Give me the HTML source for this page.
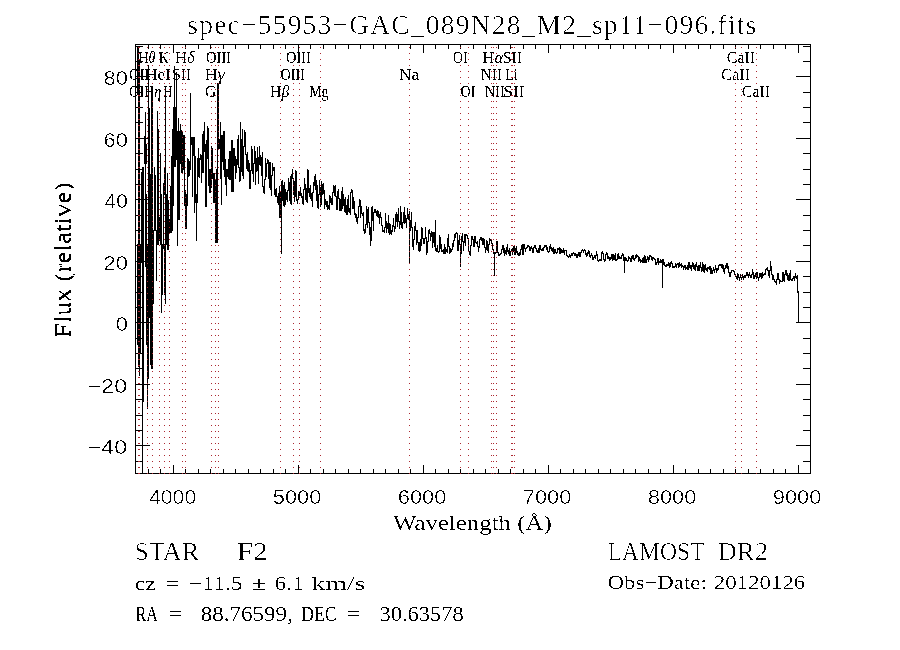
<!DOCTYPE html><html><head><meta charset="utf-8"><style>html,body{margin:0;padding:0;background:#fff;}svg{display:block;}</style></head><body>
<svg width="900" height="650" viewBox="0 0 900 650">
<rect width="900" height="650" fill="#fff"/>
<path stroke="#000" stroke-width="1" fill="none" shape-rendering="crispEdges" d="M137.5 46V95M137.5 244V345M138.5 46V367M139.5 60V376M140.5 244V354M141.5 172V263M142.5 167V474M143.5 167V402M144.5 136V164M145.5 112V267M146.5 144V164M146.5 194V345M147.5 244V409M148.5 65V379M149.5 108V318M150.5 174V365M151.5 88V369M152.5 88V369M153.5 230V304M154.5 167V231M155.5 175V231M156.5 230V281M157.5 111V245M158.5 129V245M159.5 217V241M160.5 153V245M161.5 194V313M162.5 244V295M163.5 183V249M164.5 167V195M164.5 244V295M165.5 87V304M166.5 194V245M167.5 173V250M168.5 200V250M169.5 219V233M170.5 186V233M171.5 156V233M172.5 129V231M173.5 107V206M174.5 66V167M175.5 107V167M176.5 72V160M177.5 131V246M178.5 118V220M179.5 131V220M180.5 124V164M181.5 130V173M182.5 132V174M183.5 135V170M184.5 135V206M185.5 190V229M186.5 194V229M187.5 158V206M188.5 159V177M189.5 161V176M190.5 93V170M191.5 137V145M192.5 137V197M193.5 137V156M194.5 137V213M195.5 156V203M196.5 194V241M197.5 158V203M198.5 148V177M199.5 158V178M200.5 154V160M201.5 155V183M202.5 134V173M203.5 131V173M204.5 122V152M205.5 144V207M206.5 140V207M207.5 126V159M208.5 128V186M209.5 169V193M210.5 169V193M211.5 146V188M212.5 148V179M213.5 173V203M214.5 173V203M215.5 179V243M216.5 169V243M217.5 83V243M218.5 83V149M219.5 139V149M220.5 122V179M221.5 135V205M222.5 135V162M223.5 131V170M224.5 131V177M225.5 159V185M226.5 169V196M227.5 169V177M228.5 159V179M229.5 151V180M230.5 151V180M231.5 140V192M232.5 140V192M233.5 148V192M234.5 148V166M235.5 156V179M236.5 159V173M237.5 139V165M238.5 135V168M239.5 167V182M240.5 122V181M241.5 139V172M242.5 129V176M243.5 146V179M244.5 130V147M245.5 132V155M246.5 154V169M247.5 152V171M248.5 160V172M249.5 163V189M250.5 170V189M251.5 146V171M252.5 149V174M253.5 163V182M254.5 146V164M255.5 151V185M256.5 158V172M257.5 147V171M258.5 157V184M259.5 146V165M260.5 155V166M261.5 157V176M262.5 152V187M263.5 186V193M264.5 179V194M265.5 158V180M266.5 163V177M267.5 159V164M268.5 160V179M269.5 162V188M270.5 162V190M271.5 175V196M272.5 163V176M273.5 167V171M274.5 167V195M275.5 189V197M276.5 188V197M277.5 196V203M278.5 193V205M279.5 186V218M280.5 192V218M281.5 181V254M282.5 180V201M283.5 185V206M284.5 182V207M285.5 189V205M286.5 192V200M287.5 190V202M288.5 178V191M289.5 182V201M290.5 176V204M291.5 174V205M292.5 169V179M293.5 178V195M294.5 181V202M295.5 170V197M296.5 171V201M297.5 199V204M298.5 191V200M299.5 191V196M300.5 187V196M301.5 193V198M302.5 196V204M303.5 189V205M304.5 178V190M305.5 184V200M306.5 188V202M307.5 169V203M308.5 170V193M309.5 188V197M310.5 185V199M311.5 193V201M312.5 192V207M313.5 182V193M314.5 176V186M315.5 174V190M316.5 180V201M317.5 185V208M318.5 194V209M319.5 180V195M320.5 187V207M321.5 181V205M322.5 184V195M323.5 183V194M324.5 190V209M325.5 199V205M326.5 201V207M327.5 201V210M328.5 205V209M329.5 195V210M330.5 196V203M331.5 198V205M332.5 192V205M333.5 185V193M334.5 186V196M335.5 185V197M336.5 196V210M337.5 191V210M338.5 189V199M339.5 198V211M340.5 199V211M341.5 191V211M342.5 187V209M343.5 194V206M344.5 199V212M345.5 197V213M346.5 205V215M347.5 199V215M348.5 195V212M349.5 208V213M350.5 192V215M351.5 189V193M352.5 190V209M353.5 197V209M354.5 201V215M355.5 213V218M356.5 214V222M357.5 217V224M358.5 206V218M359.5 199V207M360.5 200V218M361.5 206V214M362.5 213V216M363.5 212V231M364.5 229V234M365.5 224V233M366.5 206V225M367.5 209V228M368.5 207V223M369.5 222V235M370.5 227V246M371.5 207V241M372.5 206V221M373.5 212V231M374.5 209V213M375.5 209V213M376.5 211V216M377.5 210V217M378.5 211V218M379.5 214V224M380.5 212V218M381.5 217V226M382.5 225V232M383.5 230V232M384.5 227V233M385.5 213V228M386.5 221V233M387.5 223V229M388.5 215V233M389.5 223V235M390.5 224V234M391.5 230V235M392.5 225V232M393.5 218V227M394.5 226V232M395.5 214V229M396.5 212V222M397.5 214V227M398.5 208V222M399.5 221V229M400.5 206V225M401.5 212V228M402.5 222V229M403.5 212V223M404.5 207V224M405.5 215V223M406.5 218V228M407.5 208V219M408.5 214V220M409.5 211V264M410.5 220V231M411.5 212V228M412.5 227V247M413.5 239V250M414.5 226V240M415.5 222V231M416.5 230V245M417.5 230V243M418.5 242V251M419.5 242V252M420.5 239V251M421.5 227V246M422.5 228V239M423.5 238V244M424.5 238V244M425.5 227V239M426.5 237V255M427.5 241V253M428.5 230V242M429.5 229V234M430.5 233V241M431.5 231V237M432.5 232V248M433.5 232V243M434.5 232V247M435.5 220V251M436.5 248V252M437.5 245V252M438.5 251V253M439.5 235V252M440.5 237V249M441.5 244V252M442.5 250V252M443.5 249V254M444.5 244V254M445.5 247V254M446.5 249V252M447.5 238V253M448.5 234V247M449.5 246V254M450.5 248V253M451.5 249V252M452.5 243V250M453.5 240V247M454.5 234V241M455.5 233V238M456.5 232V234M457.5 233V251M458.5 240V251M459.5 235V245M460.5 244V267M461.5 236V254M462.5 233V242M463.5 241V251M464.5 234V243M465.5 234V246M466.5 234V236M467.5 235V239M468.5 238V252M469.5 251V255M470.5 245V256M471.5 236V246M472.5 236V240M473.5 239V247M474.5 236V247M475.5 236V243M476.5 242V244M477.5 241V247M478.5 246V252M479.5 239V248M480.5 237V240M481.5 237V241M482.5 238V245M483.5 238V245M484.5 239V248M485.5 247V253M486.5 240V250M487.5 241V251M488.5 244V253M489.5 238V245M490.5 239V241M491.5 239V244M492.5 243V250M493.5 249V254M494.5 252V276M495.5 252V254M496.5 241V253M497.5 241V253M498.5 252V256M499.5 254V256M500.5 253V255M501.5 249V254M502.5 245V250M503.5 245V253M504.5 248V256M505.5 250V254M506.5 247V255M507.5 244V252M508.5 250V254M509.5 248V256M510.5 251V256M511.5 249V252M512.5 248V255M513.5 246V252M514.5 245V255M515.5 248V255M516.5 246V253M517.5 251V255M518.5 253V256M519.5 252V256M520.5 249V255M521.5 245V250M522.5 244V255M523.5 244V255M524.5 244V249M525.5 248V252M526.5 247V249M527.5 245V248M528.5 245V247M529.5 246V251M530.5 247V251M531.5 246V249M532.5 248V253M533.5 247V253M534.5 245V248M535.5 245V249M536.5 248V252M537.5 250V253M538.5 248V253M539.5 245V253M540.5 245V250M541.5 249V251M542.5 248V251M543.5 247V251M544.5 245V248M545.5 245V247M546.5 245V250M547.5 247V252M548.5 251V253M549.5 246V252M550.5 244V249M551.5 247V251M552.5 248V252M553.5 247V254M554.5 249V254M555.5 249V253M556.5 252V254M557.5 248V253M558.5 248V250M559.5 247V254M560.5 248V254M561.5 249V253M562.5 250V253M563.5 248V253M564.5 250V255M565.5 250V251M566.5 250V256M567.5 255V257M568.5 256V258M569.5 254V257M570.5 255V258M571.5 253V256M572.5 253V256M573.5 252V254M574.5 253V256M575.5 253V256M576.5 254V258M577.5 254V258M578.5 252V256M579.5 252V257M580.5 252V257M581.5 250V253M582.5 249V251M583.5 250V253M584.5 249V251M585.5 250V255M586.5 253V257M587.5 252V256M588.5 250V254M589.5 251V257M590.5 255V258M591.5 253V256M592.5 255V260M593.5 257V260M594.5 255V258M595.5 255V259M596.5 251V256M597.5 254V261M598.5 260V262M599.5 259V261M600.5 259V261M601.5 252V261M602.5 251V254M603.5 253V260M604.5 259V262M605.5 254V261M606.5 252V255M607.5 253V259M608.5 256V259M609.5 257V261M610.5 257V260M611.5 254V259M612.5 254V261M613.5 254V260M614.5 255V260M615.5 253V261M616.5 259V261M617.5 254V260M618.5 253V259M619.5 256V259M620.5 257V259M621.5 255V259M622.5 253V256M623.5 254V261M624.5 257V273M625.5 257V261M626.5 258V261M627.5 260V262M628.5 256V261M629.5 257V259M630.5 258V262M631.5 256V262M632.5 255V259M633.5 255V260M634.5 258V261M635.5 255V259M636.5 254V258M637.5 255V257M638.5 256V262M639.5 257V261M640.5 259V263M641.5 260V262M642.5 258V263M643.5 257V263M644.5 255V263M645.5 256V263M646.5 259V263M647.5 256V260M648.5 257V262M649.5 255V260M650.5 255V257M651.5 256V260M652.5 257V261M653.5 257V259M654.5 258V260M655.5 259V265M656.5 262V265M657.5 258V263M658.5 258V265M659.5 261V263M660.5 259V263M661.5 260V263M662.5 259V288M663.5 259V265M664.5 262V266M665.5 265V267M666.5 264V267M667.5 264V266M668.5 262V266M669.5 263V268M670.5 262V267M671.5 261V264M672.5 263V268M673.5 266V268M674.5 266V268M675.5 263V267M676.5 264V268M677.5 263V265M678.5 263V268M679.5 262V267M680.5 264V266M681.5 263V268M682.5 265V267M683.5 266V270M684.5 265V268M685.5 265V270M686.5 267V269M687.5 265V270M688.5 262V270M689.5 262V268M690.5 265V269M691.5 265V271M692.5 262V267M693.5 263V269M694.5 265V270M695.5 264V271M696.5 262V267M697.5 266V271M698.5 265V271M699.5 265V271M700.5 262V268M701.5 267V272M702.5 262V271M703.5 264V272M704.5 265V273M705.5 264V270M706.5 268V271M707.5 267V272M708.5 267V269M709.5 266V270M710.5 266V274M711.5 268V274M712.5 270V274M713.5 267V271M714.5 269V273M715.5 265V270M716.5 268V273M717.5 268V271M718.5 265V270M719.5 264V266M720.5 264V266M721.5 264V268M722.5 264V269M723.5 265V272M724.5 268V274M725.5 265V269M726.5 263V268M727.5 263V269M728.5 266V273M729.5 272V277M730.5 272V277M731.5 270V273M732.5 270V271M733.5 270V272M734.5 271V275M735.5 274V277M736.5 276V279M737.5 273V280M738.5 274V278M739.5 277V281M740.5 274V278M741.5 277V280M742.5 274V278M743.5 276V280M744.5 275V278M745.5 275V278M746.5 272V276M747.5 272V276M748.5 274V278M749.5 272V276M750.5 275V278M751.5 274V278M752.5 269V275M753.5 272V279M754.5 275V279M755.5 273V277M756.5 272V279M757.5 272V278M758.5 277V281M759.5 273V278M760.5 273V277M761.5 273V279M762.5 272V278M763.5 274V276M764.5 273V275M765.5 269V275M766.5 268V270M767.5 267V271M768.5 270V276M769.5 270V278M770.5 261V271M771.5 266V275M772.5 274V280M773.5 275V280M774.5 279V282M775.5 281V283M776.5 279V285M777.5 273V280M778.5 273V280M779.5 279V284M780.5 280V282M781.5 281V282M782.5 272V282M783.5 272V281M784.5 274V282M785.5 270V275M786.5 270V276M787.5 273V280M788.5 275V281M789.5 273V281M790.5 270V280M791.5 279V281M792.5 278V281M793.5 276V279M794.5 276V281M795.5 273V278M796.5 276V279M797.5 275V293M798.5 291V323"/>
<path stroke="#000" stroke-width="1" fill="none" shape-rendering="crispEdges" d="M135.5 44.5H810.5V473.5H135.5ZM148.5 473V469M148.5 44V49M160.5 473V469M160.5 44V49M173.5 473V465M173.5 44V53M185.5 473V469M185.5 44V49M198.5 473V469M198.5 44V49M210.5 473V469M210.5 44V49M223.5 473V469M223.5 44V49M235.5 473V469M235.5 44V49M248.5 473V469M248.5 44V49M260.5 473V469M260.5 44V49M273.5 473V469M273.5 44V49M285.5 473V469M285.5 44V49M298.5 473V465M298.5 44V53M310.5 473V469M310.5 44V49M323.5 473V469M323.5 44V49M335.5 473V469M335.5 44V49M348.5 473V469M348.5 44V49M360.5 473V469M360.5 44V49M373.5 473V469M373.5 44V49M385.5 473V469M385.5 44V49M398.5 473V469M398.5 44V49M410.5 473V469M410.5 44V49M423.5 473V465M423.5 44V53M435.5 473V469M435.5 44V49M448.5 473V469M448.5 44V49M460.5 473V469M460.5 44V49M473.5 473V469M473.5 44V49M485.5 473V469M485.5 44V49M498.5 473V469M498.5 44V49M510.5 473V469M510.5 44V49M523.5 473V469M523.5 44V49M535.5 473V469M535.5 44V49M548.5 473V465M548.5 44V53M560.5 473V469M560.5 44V49M573.5 473V469M573.5 44V49M585.5 473V469M585.5 44V49M598.5 473V469M598.5 44V49M610.5 473V469M610.5 44V49M623.5 473V469M623.5 44V49M635.5 473V469M635.5 44V49M648.5 473V469M648.5 44V49M660.5 473V469M660.5 44V49M673.5 473V465M673.5 44V53M685.5 473V469M685.5 44V49M698.5 473V469M698.5 44V49M710.5 473V469M710.5 44V49M723.5 473V469M723.5 44V49M735.5 473V469M735.5 44V49M748.5 473V469M748.5 44V49M760.5 473V469M760.5 44V49M773.5 473V469M773.5 44V49M785.5 473V469M785.5 44V49M798.5 473V465M798.5 44V53M135 461.5H143M810 461.5H803M135 445.5H150M810 445.5H796M135 430.5H143M810 430.5H803M135 415.5H143M810 415.5H803M135 399.5H143M810 399.5H803M135 384.5H150M810 384.5H796M135 368.5H143M810 368.5H803M135 353.5H143M810 353.5H803M135 338.5H143M810 338.5H803M135 322.5H150M810 322.5H796M135 307.5H143M810 307.5H803M135 292.5H143M810 292.5H803M135 276.5H143M810 276.5H803M135 261.5H150M810 261.5H796M135 245.5H143M810 245.5H803M135 230.5H143M810 230.5H803M135 215.5H143M810 215.5H803M135 199.5H150M810 199.5H796M135 184.5H143M810 184.5H803M135 169.5H143M810 169.5H803M135 153.5H143M810 153.5H803M135 138.5H150M810 138.5H796M135 122.5H143M810 122.5H803M135 107.5H143M810 107.5H803M135 92.5H143M810 92.5H803M135 76.5H150M810 76.5H796M135 61.5H143M810 61.5H803M135 46.5H143M810 46.5H803"/>
<path fill="#ac2830" d="M138 47h1v1h-1zM138 53h1v1h-1zM138 59h1v1h-1zM138 65h1v1h-1zM138 71h1v1h-1zM138 77h1v1h-1zM138 83h1v1h-1zM138 89h1v1h-1zM138 95h1v1h-1zM138 101h1v1h-1zM138 107h1v1h-1zM138 113h1v1h-1zM138 119h1v1h-1zM138 125h1v1h-1zM138 131h1v1h-1zM138 137h1v1h-1zM138 143h1v1h-1zM138 149h1v1h-1zM138 155h1v1h-1zM138 161h1v1h-1zM138 167h1v1h-1zM138 173h1v1h-1zM138 179h1v1h-1zM138 185h1v1h-1zM138 191h1v1h-1zM138 197h1v1h-1zM138 203h1v1h-1zM138 209h1v1h-1zM138 215h1v1h-1zM138 221h1v1h-1zM138 227h1v1h-1zM138 233h1v1h-1zM138 239h1v1h-1zM138 245h1v1h-1zM138 251h1v1h-1zM138 257h1v1h-1zM138 263h1v1h-1zM138 269h1v1h-1zM138 275h1v1h-1zM138 281h1v1h-1zM138 287h1v1h-1zM138 293h1v1h-1zM138 299h1v1h-1zM138 305h1v1h-1zM138 311h1v1h-1zM138 317h1v1h-1zM138 323h1v1h-1zM138 329h1v1h-1zM138 335h1v1h-1zM138 341h1v1h-1zM138 347h1v1h-1zM138 353h1v1h-1zM138 359h1v1h-1zM138 365h1v1h-1zM138 371h1v1h-1zM138 377h1v1h-1zM138 383h1v1h-1zM138 389h1v1h-1zM138 395h1v1h-1zM138 401h1v1h-1zM138 407h1v1h-1zM138 413h1v1h-1zM138 419h1v1h-1zM138 425h1v1h-1zM138 431h1v1h-1zM138 437h1v1h-1zM138 443h1v1h-1zM138 449h1v1h-1zM138 455h1v1h-1zM138 461h1v1h-1zM138 467h1v1h-1zM138 473h1v1h-1zM139 47h1v1h-1zM139 53h1v1h-1zM139 59h1v1h-1zM139 65h1v1h-1zM139 71h1v1h-1zM139 77h1v1h-1zM139 83h1v1h-1zM139 89h1v1h-1zM139 95h1v1h-1zM139 101h1v1h-1zM139 107h1v1h-1zM139 113h1v1h-1zM139 119h1v1h-1zM139 125h1v1h-1zM139 131h1v1h-1zM139 137h1v1h-1zM139 143h1v1h-1zM139 149h1v1h-1zM139 155h1v1h-1zM139 161h1v1h-1zM139 167h1v1h-1zM139 173h1v1h-1zM139 179h1v1h-1zM139 185h1v1h-1zM139 191h1v1h-1zM139 197h1v1h-1zM139 203h1v1h-1zM139 209h1v1h-1zM139 215h1v1h-1zM139 221h1v1h-1zM139 227h1v1h-1zM139 233h1v1h-1zM139 239h1v1h-1zM139 245h1v1h-1zM139 251h1v1h-1zM139 257h1v1h-1zM139 263h1v1h-1zM139 269h1v1h-1zM139 275h1v1h-1zM139 281h1v1h-1zM139 287h1v1h-1zM139 293h1v1h-1zM139 299h1v1h-1zM139 305h1v1h-1zM139 311h1v1h-1zM139 317h1v1h-1zM139 323h1v1h-1zM139 329h1v1h-1zM139 335h1v1h-1zM139 341h1v1h-1zM139 347h1v1h-1zM139 353h1v1h-1zM139 359h1v1h-1zM139 365h1v1h-1zM139 371h1v1h-1zM139 377h1v1h-1zM139 383h1v1h-1zM139 389h1v1h-1zM139 395h1v1h-1zM139 401h1v1h-1zM139 407h1v1h-1zM139 413h1v1h-1zM139 419h1v1h-1zM139 425h1v1h-1zM139 431h1v1h-1zM139 437h1v1h-1zM139 443h1v1h-1zM139 449h1v1h-1zM139 455h1v1h-1zM139 461h1v1h-1zM139 467h1v1h-1zM139 473h1v1h-1zM147 47h1v1h-1zM147 53h1v1h-1zM147 59h1v1h-1zM147 65h1v1h-1zM147 71h1v1h-1zM147 77h1v1h-1zM147 83h1v1h-1zM147 89h1v1h-1zM147 95h1v1h-1zM147 101h1v1h-1zM147 107h1v1h-1zM147 113h1v1h-1zM147 119h1v1h-1zM147 125h1v1h-1zM147 131h1v1h-1zM147 137h1v1h-1zM147 143h1v1h-1zM147 149h1v1h-1zM147 155h1v1h-1zM147 161h1v1h-1zM147 167h1v1h-1zM147 173h1v1h-1zM147 179h1v1h-1zM147 185h1v1h-1zM147 191h1v1h-1zM147 197h1v1h-1zM147 203h1v1h-1zM147 209h1v1h-1zM147 215h1v1h-1zM147 221h1v1h-1zM147 227h1v1h-1zM147 233h1v1h-1zM147 239h1v1h-1zM147 245h1v1h-1zM147 251h1v1h-1zM147 257h1v1h-1zM147 263h1v1h-1zM147 269h1v1h-1zM147 275h1v1h-1zM147 281h1v1h-1zM147 287h1v1h-1zM147 293h1v1h-1zM147 299h1v1h-1zM147 305h1v1h-1zM147 311h1v1h-1zM147 317h1v1h-1zM147 323h1v1h-1zM147 329h1v1h-1zM147 335h1v1h-1zM147 341h1v1h-1zM147 347h1v1h-1zM147 353h1v1h-1zM147 359h1v1h-1zM147 365h1v1h-1zM147 371h1v1h-1zM147 377h1v1h-1zM147 383h1v1h-1zM147 389h1v1h-1zM147 395h1v1h-1zM147 401h1v1h-1zM147 407h1v1h-1zM147 413h1v1h-1zM147 419h1v1h-1zM147 425h1v1h-1zM147 431h1v1h-1zM147 437h1v1h-1zM147 443h1v1h-1zM147 449h1v1h-1zM147 455h1v1h-1zM147 461h1v1h-1zM147 467h1v1h-1zM147 473h1v1h-1zM152 47h1v1h-1zM152 53h1v1h-1zM152 59h1v1h-1zM152 65h1v1h-1zM152 71h1v1h-1zM152 77h1v1h-1zM152 83h1v1h-1zM152 89h1v1h-1zM152 95h1v1h-1zM152 101h1v1h-1zM152 107h1v1h-1zM152 113h1v1h-1zM152 119h1v1h-1zM152 125h1v1h-1zM152 131h1v1h-1zM152 137h1v1h-1zM152 143h1v1h-1zM152 149h1v1h-1zM152 155h1v1h-1zM152 161h1v1h-1zM152 167h1v1h-1zM152 173h1v1h-1zM152 179h1v1h-1zM152 185h1v1h-1zM152 191h1v1h-1zM152 197h1v1h-1zM152 203h1v1h-1zM152 209h1v1h-1zM152 215h1v1h-1zM152 221h1v1h-1zM152 227h1v1h-1zM152 233h1v1h-1zM152 239h1v1h-1zM152 245h1v1h-1zM152 251h1v1h-1zM152 257h1v1h-1zM152 263h1v1h-1zM152 269h1v1h-1zM152 275h1v1h-1zM152 281h1v1h-1zM152 287h1v1h-1zM152 293h1v1h-1zM152 299h1v1h-1zM152 305h1v1h-1zM152 311h1v1h-1zM152 317h1v1h-1zM152 323h1v1h-1zM152 329h1v1h-1zM152 335h1v1h-1zM152 341h1v1h-1zM152 347h1v1h-1zM152 353h1v1h-1zM152 359h1v1h-1zM152 365h1v1h-1zM152 371h1v1h-1zM152 377h1v1h-1zM152 383h1v1h-1zM152 389h1v1h-1zM152 395h1v1h-1zM152 401h1v1h-1zM152 407h1v1h-1zM152 413h1v1h-1zM152 419h1v1h-1zM152 425h1v1h-1zM152 431h1v1h-1zM152 437h1v1h-1zM152 443h1v1h-1zM152 449h1v1h-1zM152 455h1v1h-1zM152 461h1v1h-1zM152 467h1v1h-1zM152 473h1v1h-1zM159 47h1v1h-1zM159 53h1v1h-1zM159 59h1v1h-1zM159 65h1v1h-1zM159 71h1v1h-1zM159 77h1v1h-1zM159 83h1v1h-1zM159 89h1v1h-1zM159 95h1v1h-1zM159 101h1v1h-1zM159 107h1v1h-1zM159 113h1v1h-1zM159 119h1v1h-1zM159 125h1v1h-1zM159 131h1v1h-1zM159 137h1v1h-1zM159 143h1v1h-1zM159 149h1v1h-1zM159 155h1v1h-1zM159 161h1v1h-1zM159 167h1v1h-1zM159 173h1v1h-1zM159 179h1v1h-1zM159 185h1v1h-1zM159 191h1v1h-1zM159 197h1v1h-1zM159 203h1v1h-1zM159 209h1v1h-1zM159 215h1v1h-1zM159 221h1v1h-1zM159 227h1v1h-1zM159 233h1v1h-1zM159 239h1v1h-1zM159 245h1v1h-1zM159 251h1v1h-1zM159 257h1v1h-1zM159 263h1v1h-1zM159 269h1v1h-1zM159 275h1v1h-1zM159 281h1v1h-1zM159 287h1v1h-1zM159 293h1v1h-1zM159 299h1v1h-1zM159 305h1v1h-1zM159 311h1v1h-1zM159 317h1v1h-1zM159 323h1v1h-1zM159 329h1v1h-1zM159 335h1v1h-1zM159 341h1v1h-1zM159 347h1v1h-1zM159 353h1v1h-1zM159 359h1v1h-1zM159 365h1v1h-1zM159 371h1v1h-1zM159 377h1v1h-1zM159 383h1v1h-1zM159 389h1v1h-1zM159 395h1v1h-1zM159 401h1v1h-1zM159 407h1v1h-1zM159 413h1v1h-1zM159 419h1v1h-1zM159 425h1v1h-1zM159 431h1v1h-1zM159 437h1v1h-1zM159 443h1v1h-1zM159 449h1v1h-1zM159 455h1v1h-1zM159 461h1v1h-1zM159 467h1v1h-1zM159 473h1v1h-1zM164 47h1v1h-1zM164 53h1v1h-1zM164 59h1v1h-1zM164 65h1v1h-1zM164 71h1v1h-1zM164 77h1v1h-1zM164 83h1v1h-1zM164 89h1v1h-1zM164 95h1v1h-1zM164 101h1v1h-1zM164 107h1v1h-1zM164 113h1v1h-1zM164 119h1v1h-1zM164 125h1v1h-1zM164 131h1v1h-1zM164 137h1v1h-1zM164 143h1v1h-1zM164 149h1v1h-1zM164 155h1v1h-1zM164 161h1v1h-1zM164 167h1v1h-1zM164 173h1v1h-1zM164 179h1v1h-1zM164 185h1v1h-1zM164 191h1v1h-1zM164 197h1v1h-1zM164 203h1v1h-1zM164 209h1v1h-1zM164 215h1v1h-1zM164 221h1v1h-1zM164 227h1v1h-1zM164 233h1v1h-1zM164 239h1v1h-1zM164 245h1v1h-1zM164 251h1v1h-1zM164 257h1v1h-1zM164 263h1v1h-1zM164 269h1v1h-1zM164 275h1v1h-1zM164 281h1v1h-1zM164 287h1v1h-1zM164 293h1v1h-1zM164 299h1v1h-1zM164 305h1v1h-1zM164 311h1v1h-1zM164 317h1v1h-1zM164 323h1v1h-1zM164 329h1v1h-1zM164 335h1v1h-1zM164 341h1v1h-1zM164 347h1v1h-1zM164 353h1v1h-1zM164 359h1v1h-1zM164 365h1v1h-1zM164 371h1v1h-1zM164 377h1v1h-1zM164 383h1v1h-1zM164 389h1v1h-1zM164 395h1v1h-1zM164 401h1v1h-1zM164 407h1v1h-1zM164 413h1v1h-1zM164 419h1v1h-1zM164 425h1v1h-1zM164 431h1v1h-1zM164 437h1v1h-1zM164 443h1v1h-1zM164 449h1v1h-1zM164 455h1v1h-1zM164 461h1v1h-1zM164 467h1v1h-1zM164 473h1v1h-1zM169 47h1v1h-1zM169 53h1v1h-1zM169 59h1v1h-1zM169 65h1v1h-1zM169 71h1v1h-1zM169 77h1v1h-1zM169 83h1v1h-1zM169 89h1v1h-1zM169 95h1v1h-1zM169 101h1v1h-1zM169 107h1v1h-1zM169 113h1v1h-1zM169 119h1v1h-1zM169 125h1v1h-1zM169 131h1v1h-1zM169 137h1v1h-1zM169 143h1v1h-1zM169 149h1v1h-1zM169 155h1v1h-1zM169 161h1v1h-1zM169 167h1v1h-1zM169 173h1v1h-1zM169 179h1v1h-1zM169 185h1v1h-1zM169 191h1v1h-1zM169 197h1v1h-1zM169 203h1v1h-1zM169 209h1v1h-1zM169 215h1v1h-1zM169 221h1v1h-1zM169 227h1v1h-1zM169 233h1v1h-1zM169 239h1v1h-1zM169 245h1v1h-1zM169 251h1v1h-1zM169 257h1v1h-1zM169 263h1v1h-1zM169 269h1v1h-1zM169 275h1v1h-1zM169 281h1v1h-1zM169 287h1v1h-1zM169 293h1v1h-1zM169 299h1v1h-1zM169 305h1v1h-1zM169 311h1v1h-1zM169 317h1v1h-1zM169 323h1v1h-1zM169 329h1v1h-1zM169 335h1v1h-1zM169 341h1v1h-1zM169 347h1v1h-1zM169 353h1v1h-1zM169 359h1v1h-1zM169 365h1v1h-1zM169 371h1v1h-1zM169 377h1v1h-1zM169 383h1v1h-1zM169 389h1v1h-1zM169 395h1v1h-1zM169 401h1v1h-1zM169 407h1v1h-1zM169 413h1v1h-1zM169 419h1v1h-1zM169 425h1v1h-1zM169 431h1v1h-1zM169 437h1v1h-1zM169 443h1v1h-1zM169 449h1v1h-1zM169 455h1v1h-1zM169 461h1v1h-1zM169 467h1v1h-1zM169 473h1v1h-1zM182 47h1v1h-1zM182 53h1v1h-1zM182 59h1v1h-1zM182 65h1v1h-1zM182 71h1v1h-1zM182 77h1v1h-1zM182 83h1v1h-1zM182 89h1v1h-1zM182 95h1v1h-1zM182 101h1v1h-1zM182 107h1v1h-1zM182 113h1v1h-1zM182 119h1v1h-1zM182 125h1v1h-1zM182 131h1v1h-1zM182 137h1v1h-1zM182 143h1v1h-1zM182 149h1v1h-1zM182 155h1v1h-1zM182 161h1v1h-1zM182 167h1v1h-1zM182 173h1v1h-1zM182 179h1v1h-1zM182 185h1v1h-1zM182 191h1v1h-1zM182 197h1v1h-1zM182 203h1v1h-1zM182 209h1v1h-1zM182 215h1v1h-1zM182 221h1v1h-1zM182 227h1v1h-1zM182 233h1v1h-1zM182 239h1v1h-1zM182 245h1v1h-1zM182 251h1v1h-1zM182 257h1v1h-1zM182 263h1v1h-1zM182 269h1v1h-1zM182 275h1v1h-1zM182 281h1v1h-1zM182 287h1v1h-1zM182 293h1v1h-1zM182 299h1v1h-1zM182 305h1v1h-1zM182 311h1v1h-1zM182 317h1v1h-1zM182 323h1v1h-1zM182 329h1v1h-1zM182 335h1v1h-1zM182 341h1v1h-1zM182 347h1v1h-1zM182 353h1v1h-1zM182 359h1v1h-1zM182 365h1v1h-1zM182 371h1v1h-1zM182 377h1v1h-1zM182 383h1v1h-1zM182 389h1v1h-1zM182 395h1v1h-1zM182 401h1v1h-1zM182 407h1v1h-1zM182 413h1v1h-1zM182 419h1v1h-1zM182 425h1v1h-1zM182 431h1v1h-1zM182 437h1v1h-1zM182 443h1v1h-1zM182 449h1v1h-1zM182 455h1v1h-1zM182 461h1v1h-1zM182 467h1v1h-1zM182 473h1v1h-1zM185 47h1v1h-1zM185 53h1v1h-1zM185 59h1v1h-1zM185 65h1v1h-1zM185 71h1v1h-1zM185 77h1v1h-1zM185 83h1v1h-1zM185 89h1v1h-1zM185 95h1v1h-1zM185 101h1v1h-1zM185 107h1v1h-1zM185 113h1v1h-1zM185 119h1v1h-1zM185 125h1v1h-1zM185 131h1v1h-1zM185 137h1v1h-1zM185 143h1v1h-1zM185 149h1v1h-1zM185 155h1v1h-1zM185 161h1v1h-1zM185 167h1v1h-1zM185 173h1v1h-1zM185 179h1v1h-1zM185 185h1v1h-1zM185 191h1v1h-1zM185 197h1v1h-1zM185 203h1v1h-1zM185 209h1v1h-1zM185 215h1v1h-1zM185 221h1v1h-1zM185 227h1v1h-1zM185 233h1v1h-1zM185 239h1v1h-1zM185 245h1v1h-1zM185 251h1v1h-1zM185 257h1v1h-1zM185 263h1v1h-1zM185 269h1v1h-1zM185 275h1v1h-1zM185 281h1v1h-1zM185 287h1v1h-1zM185 293h1v1h-1zM185 299h1v1h-1zM185 305h1v1h-1zM185 311h1v1h-1zM185 317h1v1h-1zM185 323h1v1h-1zM185 329h1v1h-1zM185 335h1v1h-1zM185 341h1v1h-1zM185 347h1v1h-1zM185 353h1v1h-1zM185 359h1v1h-1zM185 365h1v1h-1zM185 371h1v1h-1zM185 377h1v1h-1zM185 383h1v1h-1zM185 389h1v1h-1zM185 395h1v1h-1zM185 401h1v1h-1zM185 407h1v1h-1zM185 413h1v1h-1zM185 419h1v1h-1zM185 425h1v1h-1zM185 431h1v1h-1zM185 437h1v1h-1zM185 443h1v1h-1zM185 449h1v1h-1zM185 455h1v1h-1zM185 461h1v1h-1zM185 467h1v1h-1zM185 473h1v1h-1zM211 47h1v1h-1zM211 53h1v1h-1zM211 59h1v1h-1zM211 65h1v1h-1zM211 71h1v1h-1zM211 77h1v1h-1zM211 83h1v1h-1zM211 89h1v1h-1zM211 95h1v1h-1zM211 101h1v1h-1zM211 107h1v1h-1zM211 113h1v1h-1zM211 119h1v1h-1zM211 125h1v1h-1zM211 131h1v1h-1zM211 137h1v1h-1zM211 143h1v1h-1zM211 149h1v1h-1zM211 155h1v1h-1zM211 161h1v1h-1zM211 167h1v1h-1zM211 173h1v1h-1zM211 179h1v1h-1zM211 185h1v1h-1zM211 191h1v1h-1zM211 197h1v1h-1zM211 203h1v1h-1zM211 209h1v1h-1zM211 215h1v1h-1zM211 221h1v1h-1zM211 227h1v1h-1zM211 233h1v1h-1zM211 239h1v1h-1zM211 245h1v1h-1zM211 251h1v1h-1zM211 257h1v1h-1zM211 263h1v1h-1zM211 269h1v1h-1zM211 275h1v1h-1zM211 281h1v1h-1zM211 287h1v1h-1zM211 293h1v1h-1zM211 299h1v1h-1zM211 305h1v1h-1zM211 311h1v1h-1zM211 317h1v1h-1zM211 323h1v1h-1zM211 329h1v1h-1zM211 335h1v1h-1zM211 341h1v1h-1zM211 347h1v1h-1zM211 353h1v1h-1zM211 359h1v1h-1zM211 365h1v1h-1zM211 371h1v1h-1zM211 377h1v1h-1zM211 383h1v1h-1zM211 389h1v1h-1zM211 395h1v1h-1zM211 401h1v1h-1zM211 407h1v1h-1zM211 413h1v1h-1zM211 419h1v1h-1zM211 425h1v1h-1zM211 431h1v1h-1zM211 437h1v1h-1zM211 443h1v1h-1zM211 449h1v1h-1zM211 455h1v1h-1zM211 461h1v1h-1zM211 467h1v1h-1zM211 473h1v1h-1zM215 47h1v1h-1zM215 53h1v1h-1zM215 59h1v1h-1zM215 65h1v1h-1zM215 71h1v1h-1zM215 77h1v1h-1zM215 83h1v1h-1zM215 89h1v1h-1zM215 95h1v1h-1zM215 101h1v1h-1zM215 107h1v1h-1zM215 113h1v1h-1zM215 119h1v1h-1zM215 125h1v1h-1zM215 131h1v1h-1zM215 137h1v1h-1zM215 143h1v1h-1zM215 149h1v1h-1zM215 155h1v1h-1zM215 161h1v1h-1zM215 167h1v1h-1zM215 173h1v1h-1zM215 179h1v1h-1zM215 185h1v1h-1zM215 191h1v1h-1zM215 197h1v1h-1zM215 203h1v1h-1zM215 209h1v1h-1zM215 215h1v1h-1zM215 221h1v1h-1zM215 227h1v1h-1zM215 233h1v1h-1zM215 239h1v1h-1zM215 245h1v1h-1zM215 251h1v1h-1zM215 257h1v1h-1zM215 263h1v1h-1zM215 269h1v1h-1zM215 275h1v1h-1zM215 281h1v1h-1zM215 287h1v1h-1zM215 293h1v1h-1zM215 299h1v1h-1zM215 305h1v1h-1zM215 311h1v1h-1zM215 317h1v1h-1zM215 323h1v1h-1zM215 329h1v1h-1zM215 335h1v1h-1zM215 341h1v1h-1zM215 347h1v1h-1zM215 353h1v1h-1zM215 359h1v1h-1zM215 365h1v1h-1zM215 371h1v1h-1zM215 377h1v1h-1zM215 383h1v1h-1zM215 389h1v1h-1zM215 395h1v1h-1zM215 401h1v1h-1zM215 407h1v1h-1zM215 413h1v1h-1zM215 419h1v1h-1zM215 425h1v1h-1zM215 431h1v1h-1zM215 437h1v1h-1zM215 443h1v1h-1zM215 449h1v1h-1zM215 455h1v1h-1zM215 461h1v1h-1zM215 467h1v1h-1zM215 473h1v1h-1zM218 47h1v1h-1zM218 53h1v1h-1zM218 59h1v1h-1zM218 65h1v1h-1zM218 71h1v1h-1zM218 77h1v1h-1zM218 83h1v1h-1zM218 89h1v1h-1zM218 95h1v1h-1zM218 101h1v1h-1zM218 107h1v1h-1zM218 113h1v1h-1zM218 119h1v1h-1zM218 125h1v1h-1zM218 131h1v1h-1zM218 137h1v1h-1zM218 143h1v1h-1zM218 149h1v1h-1zM218 155h1v1h-1zM218 161h1v1h-1zM218 167h1v1h-1zM218 173h1v1h-1zM218 179h1v1h-1zM218 185h1v1h-1zM218 191h1v1h-1zM218 197h1v1h-1zM218 203h1v1h-1zM218 209h1v1h-1zM218 215h1v1h-1zM218 221h1v1h-1zM218 227h1v1h-1zM218 233h1v1h-1zM218 239h1v1h-1zM218 245h1v1h-1zM218 251h1v1h-1zM218 257h1v1h-1zM218 263h1v1h-1zM218 269h1v1h-1zM218 275h1v1h-1zM218 281h1v1h-1zM218 287h1v1h-1zM218 293h1v1h-1zM218 299h1v1h-1zM218 305h1v1h-1zM218 311h1v1h-1zM218 317h1v1h-1zM218 323h1v1h-1zM218 329h1v1h-1zM218 335h1v1h-1zM218 341h1v1h-1zM218 347h1v1h-1zM218 353h1v1h-1zM218 359h1v1h-1zM218 365h1v1h-1zM218 371h1v1h-1zM218 377h1v1h-1zM218 383h1v1h-1zM218 389h1v1h-1zM218 395h1v1h-1zM218 401h1v1h-1zM218 407h1v1h-1zM218 413h1v1h-1zM218 419h1v1h-1zM218 425h1v1h-1zM218 431h1v1h-1zM218 437h1v1h-1zM218 443h1v1h-1zM218 449h1v1h-1zM218 455h1v1h-1zM218 461h1v1h-1zM218 467h1v1h-1zM218 473h1v1h-1zM280 47h1v1h-1zM280 53h1v1h-1zM280 59h1v1h-1zM280 65h1v1h-1zM280 71h1v1h-1zM280 77h1v1h-1zM280 83h1v1h-1zM280 89h1v1h-1zM280 95h1v1h-1zM280 101h1v1h-1zM280 107h1v1h-1zM280 113h1v1h-1zM280 119h1v1h-1zM280 125h1v1h-1zM280 131h1v1h-1zM280 137h1v1h-1zM280 143h1v1h-1zM280 149h1v1h-1zM280 155h1v1h-1zM280 161h1v1h-1zM280 167h1v1h-1zM280 173h1v1h-1zM280 179h1v1h-1zM280 185h1v1h-1zM280 191h1v1h-1zM280 197h1v1h-1zM280 203h1v1h-1zM280 209h1v1h-1zM280 215h1v1h-1zM280 221h1v1h-1zM280 227h1v1h-1zM280 233h1v1h-1zM280 239h1v1h-1zM280 245h1v1h-1zM280 251h1v1h-1zM280 257h1v1h-1zM280 263h1v1h-1zM280 269h1v1h-1zM280 275h1v1h-1zM280 281h1v1h-1zM280 287h1v1h-1zM280 293h1v1h-1zM280 299h1v1h-1zM280 305h1v1h-1zM280 311h1v1h-1zM280 317h1v1h-1zM280 323h1v1h-1zM280 329h1v1h-1zM280 335h1v1h-1zM280 341h1v1h-1zM280 347h1v1h-1zM280 353h1v1h-1zM280 359h1v1h-1zM280 365h1v1h-1zM280 371h1v1h-1zM280 377h1v1h-1zM280 383h1v1h-1zM280 389h1v1h-1zM280 395h1v1h-1zM280 401h1v1h-1zM280 407h1v1h-1zM280 413h1v1h-1zM280 419h1v1h-1zM280 425h1v1h-1zM280 431h1v1h-1zM280 437h1v1h-1zM280 443h1v1h-1zM280 449h1v1h-1zM280 455h1v1h-1zM280 461h1v1h-1zM280 467h1v1h-1zM280 473h1v1h-1zM293 47h1v1h-1zM293 53h1v1h-1zM293 59h1v1h-1zM293 65h1v1h-1zM293 71h1v1h-1zM293 77h1v1h-1zM293 83h1v1h-1zM293 89h1v1h-1zM293 95h1v1h-1zM293 101h1v1h-1zM293 107h1v1h-1zM293 113h1v1h-1zM293 119h1v1h-1zM293 125h1v1h-1zM293 131h1v1h-1zM293 137h1v1h-1zM293 143h1v1h-1zM293 149h1v1h-1zM293 155h1v1h-1zM293 161h1v1h-1zM293 167h1v1h-1zM293 173h1v1h-1zM293 179h1v1h-1zM293 185h1v1h-1zM293 191h1v1h-1zM293 197h1v1h-1zM293 203h1v1h-1zM293 209h1v1h-1zM293 215h1v1h-1zM293 221h1v1h-1zM293 227h1v1h-1zM293 233h1v1h-1zM293 239h1v1h-1zM293 245h1v1h-1zM293 251h1v1h-1zM293 257h1v1h-1zM293 263h1v1h-1zM293 269h1v1h-1zM293 275h1v1h-1zM293 281h1v1h-1zM293 287h1v1h-1zM293 293h1v1h-1zM293 299h1v1h-1zM293 305h1v1h-1zM293 311h1v1h-1zM293 317h1v1h-1zM293 323h1v1h-1zM293 329h1v1h-1zM293 335h1v1h-1zM293 341h1v1h-1zM293 347h1v1h-1zM293 353h1v1h-1zM293 359h1v1h-1zM293 365h1v1h-1zM293 371h1v1h-1zM293 377h1v1h-1zM293 383h1v1h-1zM293 389h1v1h-1zM293 395h1v1h-1zM293 401h1v1h-1zM293 407h1v1h-1zM293 413h1v1h-1zM293 419h1v1h-1zM293 425h1v1h-1zM293 431h1v1h-1zM293 437h1v1h-1zM293 443h1v1h-1zM293 449h1v1h-1zM293 455h1v1h-1zM293 461h1v1h-1zM293 467h1v1h-1zM293 473h1v1h-1zM299 47h1v1h-1zM299 53h1v1h-1zM299 59h1v1h-1zM299 65h1v1h-1zM299 71h1v1h-1zM299 77h1v1h-1zM299 83h1v1h-1zM299 89h1v1h-1zM299 95h1v1h-1zM299 101h1v1h-1zM299 107h1v1h-1zM299 113h1v1h-1zM299 119h1v1h-1zM299 125h1v1h-1zM299 131h1v1h-1zM299 137h1v1h-1zM299 143h1v1h-1zM299 149h1v1h-1zM299 155h1v1h-1zM299 161h1v1h-1zM299 167h1v1h-1zM299 173h1v1h-1zM299 179h1v1h-1zM299 185h1v1h-1zM299 191h1v1h-1zM299 197h1v1h-1zM299 203h1v1h-1zM299 209h1v1h-1zM299 215h1v1h-1zM299 221h1v1h-1zM299 227h1v1h-1zM299 233h1v1h-1zM299 239h1v1h-1zM299 245h1v1h-1zM299 251h1v1h-1zM299 257h1v1h-1zM299 263h1v1h-1zM299 269h1v1h-1zM299 275h1v1h-1zM299 281h1v1h-1zM299 287h1v1h-1zM299 293h1v1h-1zM299 299h1v1h-1zM299 305h1v1h-1zM299 311h1v1h-1zM299 317h1v1h-1zM299 323h1v1h-1zM299 329h1v1h-1zM299 335h1v1h-1zM299 341h1v1h-1zM299 347h1v1h-1zM299 353h1v1h-1zM299 359h1v1h-1zM299 365h1v1h-1zM299 371h1v1h-1zM299 377h1v1h-1zM299 383h1v1h-1zM299 389h1v1h-1zM299 395h1v1h-1zM299 401h1v1h-1zM299 407h1v1h-1zM299 413h1v1h-1zM299 419h1v1h-1zM299 425h1v1h-1zM299 431h1v1h-1zM299 437h1v1h-1zM299 443h1v1h-1zM299 449h1v1h-1zM299 455h1v1h-1zM299 461h1v1h-1zM299 467h1v1h-1zM299 473h1v1h-1zM320 47h1v1h-1zM320 53h1v1h-1zM320 59h1v1h-1zM320 65h1v1h-1zM320 71h1v1h-1zM320 77h1v1h-1zM320 83h1v1h-1zM320 89h1v1h-1zM320 95h1v1h-1zM320 101h1v1h-1zM320 107h1v1h-1zM320 113h1v1h-1zM320 119h1v1h-1zM320 125h1v1h-1zM320 131h1v1h-1zM320 137h1v1h-1zM320 143h1v1h-1zM320 149h1v1h-1zM320 155h1v1h-1zM320 161h1v1h-1zM320 167h1v1h-1zM320 173h1v1h-1zM320 179h1v1h-1zM320 185h1v1h-1zM320 191h1v1h-1zM320 197h1v1h-1zM320 203h1v1h-1zM320 209h1v1h-1zM320 215h1v1h-1zM320 221h1v1h-1zM320 227h1v1h-1zM320 233h1v1h-1zM320 239h1v1h-1zM320 245h1v1h-1zM320 251h1v1h-1zM320 257h1v1h-1zM320 263h1v1h-1zM320 269h1v1h-1zM320 275h1v1h-1zM320 281h1v1h-1zM320 287h1v1h-1zM320 293h1v1h-1zM320 299h1v1h-1zM320 305h1v1h-1zM320 311h1v1h-1zM320 317h1v1h-1zM320 323h1v1h-1zM320 329h1v1h-1zM320 335h1v1h-1zM320 341h1v1h-1zM320 347h1v1h-1zM320 353h1v1h-1zM320 359h1v1h-1zM320 365h1v1h-1zM320 371h1v1h-1zM320 377h1v1h-1zM320 383h1v1h-1zM320 389h1v1h-1zM320 395h1v1h-1zM320 401h1v1h-1zM320 407h1v1h-1zM320 413h1v1h-1zM320 419h1v1h-1zM320 425h1v1h-1zM320 431h1v1h-1zM320 437h1v1h-1zM320 443h1v1h-1zM320 449h1v1h-1zM320 455h1v1h-1zM320 461h1v1h-1zM320 467h1v1h-1zM320 473h1v1h-1zM409 47h1v1h-1zM409 53h1v1h-1zM409 59h1v1h-1zM409 65h1v1h-1zM409 71h1v1h-1zM409 77h1v1h-1zM409 83h1v1h-1zM409 89h1v1h-1zM409 95h1v1h-1zM409 101h1v1h-1zM409 107h1v1h-1zM409 113h1v1h-1zM409 119h1v1h-1zM409 125h1v1h-1zM409 131h1v1h-1zM409 137h1v1h-1zM409 143h1v1h-1zM409 149h1v1h-1zM409 155h1v1h-1zM409 161h1v1h-1zM409 167h1v1h-1zM409 173h1v1h-1zM409 179h1v1h-1zM409 185h1v1h-1zM409 191h1v1h-1zM409 197h1v1h-1zM409 203h1v1h-1zM409 209h1v1h-1zM409 215h1v1h-1zM409 221h1v1h-1zM409 227h1v1h-1zM409 233h1v1h-1zM409 239h1v1h-1zM409 245h1v1h-1zM409 251h1v1h-1zM409 257h1v1h-1zM409 263h1v1h-1zM409 269h1v1h-1zM409 275h1v1h-1zM409 281h1v1h-1zM409 287h1v1h-1zM409 293h1v1h-1zM409 299h1v1h-1zM409 305h1v1h-1zM409 311h1v1h-1zM409 317h1v1h-1zM409 323h1v1h-1zM409 329h1v1h-1zM409 335h1v1h-1zM409 341h1v1h-1zM409 347h1v1h-1zM409 353h1v1h-1zM409 359h1v1h-1zM409 365h1v1h-1zM409 371h1v1h-1zM409 377h1v1h-1zM409 383h1v1h-1zM409 389h1v1h-1zM409 395h1v1h-1zM409 401h1v1h-1zM409 407h1v1h-1zM409 413h1v1h-1zM409 419h1v1h-1zM409 425h1v1h-1zM409 431h1v1h-1zM409 437h1v1h-1zM409 443h1v1h-1zM409 449h1v1h-1zM409 455h1v1h-1zM409 461h1v1h-1zM409 467h1v1h-1zM409 473h1v1h-1zM460 47h1v1h-1zM460 53h1v1h-1zM460 59h1v1h-1zM460 65h1v1h-1zM460 71h1v1h-1zM460 77h1v1h-1zM460 83h1v1h-1zM460 89h1v1h-1zM460 95h1v1h-1zM460 101h1v1h-1zM460 107h1v1h-1zM460 113h1v1h-1zM460 119h1v1h-1zM460 125h1v1h-1zM460 131h1v1h-1zM460 137h1v1h-1zM460 143h1v1h-1zM460 149h1v1h-1zM460 155h1v1h-1zM460 161h1v1h-1zM460 167h1v1h-1zM460 173h1v1h-1zM460 179h1v1h-1zM460 185h1v1h-1zM460 191h1v1h-1zM460 197h1v1h-1zM460 203h1v1h-1zM460 209h1v1h-1zM460 215h1v1h-1zM460 221h1v1h-1zM460 227h1v1h-1zM460 233h1v1h-1zM460 239h1v1h-1zM460 245h1v1h-1zM460 251h1v1h-1zM460 257h1v1h-1zM460 263h1v1h-1zM460 269h1v1h-1zM460 275h1v1h-1zM460 281h1v1h-1zM460 287h1v1h-1zM460 293h1v1h-1zM460 299h1v1h-1zM460 305h1v1h-1zM460 311h1v1h-1zM460 317h1v1h-1zM460 323h1v1h-1zM460 329h1v1h-1zM460 335h1v1h-1zM460 341h1v1h-1zM460 347h1v1h-1zM460 353h1v1h-1zM460 359h1v1h-1zM460 365h1v1h-1zM460 371h1v1h-1zM460 377h1v1h-1zM460 383h1v1h-1zM460 389h1v1h-1zM460 395h1v1h-1zM460 401h1v1h-1zM460 407h1v1h-1zM460 413h1v1h-1zM460 419h1v1h-1zM460 425h1v1h-1zM460 431h1v1h-1zM460 437h1v1h-1zM460 443h1v1h-1zM460 449h1v1h-1zM460 455h1v1h-1zM460 461h1v1h-1zM460 467h1v1h-1zM460 473h1v1h-1zM468 47h1v1h-1zM468 53h1v1h-1zM468 59h1v1h-1zM468 65h1v1h-1zM468 71h1v1h-1zM468 77h1v1h-1zM468 83h1v1h-1zM468 89h1v1h-1zM468 95h1v1h-1zM468 101h1v1h-1zM468 107h1v1h-1zM468 113h1v1h-1zM468 119h1v1h-1zM468 125h1v1h-1zM468 131h1v1h-1zM468 137h1v1h-1zM468 143h1v1h-1zM468 149h1v1h-1zM468 155h1v1h-1zM468 161h1v1h-1zM468 167h1v1h-1zM468 173h1v1h-1zM468 179h1v1h-1zM468 185h1v1h-1zM468 191h1v1h-1zM468 197h1v1h-1zM468 203h1v1h-1zM468 209h1v1h-1zM468 215h1v1h-1zM468 221h1v1h-1zM468 227h1v1h-1zM468 233h1v1h-1zM468 239h1v1h-1zM468 245h1v1h-1zM468 251h1v1h-1zM468 257h1v1h-1zM468 263h1v1h-1zM468 269h1v1h-1zM468 275h1v1h-1zM468 281h1v1h-1zM468 287h1v1h-1zM468 293h1v1h-1zM468 299h1v1h-1zM468 305h1v1h-1zM468 311h1v1h-1zM468 317h1v1h-1zM468 323h1v1h-1zM468 329h1v1h-1zM468 335h1v1h-1zM468 341h1v1h-1zM468 347h1v1h-1zM468 353h1v1h-1zM468 359h1v1h-1zM468 365h1v1h-1zM468 371h1v1h-1zM468 377h1v1h-1zM468 383h1v1h-1zM468 389h1v1h-1zM468 395h1v1h-1zM468 401h1v1h-1zM468 407h1v1h-1zM468 413h1v1h-1zM468 419h1v1h-1zM468 425h1v1h-1zM468 431h1v1h-1zM468 437h1v1h-1zM468 443h1v1h-1zM468 449h1v1h-1zM468 455h1v1h-1zM468 461h1v1h-1zM468 467h1v1h-1zM468 473h1v1h-1zM491 47h1v1h-1zM491 53h1v1h-1zM491 59h1v1h-1zM491 65h1v1h-1zM491 71h1v1h-1zM491 77h1v1h-1zM491 83h1v1h-1zM491 89h1v1h-1zM491 95h1v1h-1zM491 101h1v1h-1zM491 107h1v1h-1zM491 113h1v1h-1zM491 119h1v1h-1zM491 125h1v1h-1zM491 131h1v1h-1zM491 137h1v1h-1zM491 143h1v1h-1zM491 149h1v1h-1zM491 155h1v1h-1zM491 161h1v1h-1zM491 167h1v1h-1zM491 173h1v1h-1zM491 179h1v1h-1zM491 185h1v1h-1zM491 191h1v1h-1zM491 197h1v1h-1zM491 203h1v1h-1zM491 209h1v1h-1zM491 215h1v1h-1zM491 221h1v1h-1zM491 227h1v1h-1zM491 233h1v1h-1zM491 239h1v1h-1zM491 245h1v1h-1zM491 251h1v1h-1zM491 257h1v1h-1zM491 263h1v1h-1zM491 269h1v1h-1zM491 275h1v1h-1zM491 281h1v1h-1zM491 287h1v1h-1zM491 293h1v1h-1zM491 299h1v1h-1zM491 305h1v1h-1zM491 311h1v1h-1zM491 317h1v1h-1zM491 323h1v1h-1zM491 329h1v1h-1zM491 335h1v1h-1zM491 341h1v1h-1zM491 347h1v1h-1zM491 353h1v1h-1zM491 359h1v1h-1zM491 365h1v1h-1zM491 371h1v1h-1zM491 377h1v1h-1zM491 383h1v1h-1zM491 389h1v1h-1zM491 395h1v1h-1zM491 401h1v1h-1zM491 407h1v1h-1zM491 413h1v1h-1zM491 419h1v1h-1zM491 425h1v1h-1zM491 431h1v1h-1zM491 437h1v1h-1zM491 443h1v1h-1zM491 449h1v1h-1zM491 455h1v1h-1zM491 461h1v1h-1zM491 467h1v1h-1zM491 473h1v1h-1zM493 47h1v1h-1zM493 53h1v1h-1zM493 59h1v1h-1zM493 65h1v1h-1zM493 71h1v1h-1zM493 77h1v1h-1zM493 83h1v1h-1zM493 89h1v1h-1zM493 95h1v1h-1zM493 101h1v1h-1zM493 107h1v1h-1zM493 113h1v1h-1zM493 119h1v1h-1zM493 125h1v1h-1zM493 131h1v1h-1zM493 137h1v1h-1zM493 143h1v1h-1zM493 149h1v1h-1zM493 155h1v1h-1zM493 161h1v1h-1zM493 167h1v1h-1zM493 173h1v1h-1zM493 179h1v1h-1zM493 185h1v1h-1zM493 191h1v1h-1zM493 197h1v1h-1zM493 203h1v1h-1zM493 209h1v1h-1zM493 215h1v1h-1zM493 221h1v1h-1zM493 227h1v1h-1zM493 233h1v1h-1zM493 239h1v1h-1zM493 245h1v1h-1zM493 251h1v1h-1zM493 257h1v1h-1zM493 263h1v1h-1zM493 269h1v1h-1zM493 275h1v1h-1zM493 281h1v1h-1zM493 287h1v1h-1zM493 293h1v1h-1zM493 299h1v1h-1zM493 305h1v1h-1zM493 311h1v1h-1zM493 317h1v1h-1zM493 323h1v1h-1zM493 329h1v1h-1zM493 335h1v1h-1zM493 341h1v1h-1zM493 347h1v1h-1zM493 353h1v1h-1zM493 359h1v1h-1zM493 365h1v1h-1zM493 371h1v1h-1zM493 377h1v1h-1zM493 383h1v1h-1zM493 389h1v1h-1zM493 395h1v1h-1zM493 401h1v1h-1zM493 407h1v1h-1zM493 413h1v1h-1zM493 419h1v1h-1zM493 425h1v1h-1zM493 431h1v1h-1zM493 437h1v1h-1zM493 443h1v1h-1zM493 449h1v1h-1zM493 455h1v1h-1zM493 461h1v1h-1zM493 467h1v1h-1zM493 473h1v1h-1zM496 47h1v1h-1zM496 53h1v1h-1zM496 59h1v1h-1zM496 65h1v1h-1zM496 71h1v1h-1zM496 77h1v1h-1zM496 83h1v1h-1zM496 89h1v1h-1zM496 95h1v1h-1zM496 101h1v1h-1zM496 107h1v1h-1zM496 113h1v1h-1zM496 119h1v1h-1zM496 125h1v1h-1zM496 131h1v1h-1zM496 137h1v1h-1zM496 143h1v1h-1zM496 149h1v1h-1zM496 155h1v1h-1zM496 161h1v1h-1zM496 167h1v1h-1zM496 173h1v1h-1zM496 179h1v1h-1zM496 185h1v1h-1zM496 191h1v1h-1zM496 197h1v1h-1zM496 203h1v1h-1zM496 209h1v1h-1zM496 215h1v1h-1zM496 221h1v1h-1zM496 227h1v1h-1zM496 233h1v1h-1zM496 239h1v1h-1zM496 245h1v1h-1zM496 251h1v1h-1zM496 257h1v1h-1zM496 263h1v1h-1zM496 269h1v1h-1zM496 275h1v1h-1zM496 281h1v1h-1zM496 287h1v1h-1zM496 293h1v1h-1zM496 299h1v1h-1zM496 305h1v1h-1zM496 311h1v1h-1zM496 317h1v1h-1zM496 323h1v1h-1zM496 329h1v1h-1zM496 335h1v1h-1zM496 341h1v1h-1zM496 347h1v1h-1zM496 353h1v1h-1zM496 359h1v1h-1zM496 365h1v1h-1zM496 371h1v1h-1zM496 377h1v1h-1zM496 383h1v1h-1zM496 389h1v1h-1zM496 395h1v1h-1zM496 401h1v1h-1zM496 407h1v1h-1zM496 413h1v1h-1zM496 419h1v1h-1zM496 425h1v1h-1zM496 431h1v1h-1zM496 437h1v1h-1zM496 443h1v1h-1zM496 449h1v1h-1zM496 455h1v1h-1zM496 461h1v1h-1zM496 467h1v1h-1zM496 473h1v1h-1zM511 47h1v1h-1zM511 53h1v1h-1zM511 59h1v1h-1zM511 65h1v1h-1zM511 71h1v1h-1zM511 77h1v1h-1zM511 83h1v1h-1zM511 89h1v1h-1zM511 95h1v1h-1zM511 101h1v1h-1zM511 107h1v1h-1zM511 113h1v1h-1zM511 119h1v1h-1zM511 125h1v1h-1zM511 131h1v1h-1zM511 137h1v1h-1zM511 143h1v1h-1zM511 149h1v1h-1zM511 155h1v1h-1zM511 161h1v1h-1zM511 167h1v1h-1zM511 173h1v1h-1zM511 179h1v1h-1zM511 185h1v1h-1zM511 191h1v1h-1zM511 197h1v1h-1zM511 203h1v1h-1zM511 209h1v1h-1zM511 215h1v1h-1zM511 221h1v1h-1zM511 227h1v1h-1zM511 233h1v1h-1zM511 239h1v1h-1zM511 245h1v1h-1zM511 251h1v1h-1zM511 257h1v1h-1zM511 263h1v1h-1zM511 269h1v1h-1zM511 275h1v1h-1zM511 281h1v1h-1zM511 287h1v1h-1zM511 293h1v1h-1zM511 299h1v1h-1zM511 305h1v1h-1zM511 311h1v1h-1zM511 317h1v1h-1zM511 323h1v1h-1zM511 329h1v1h-1zM511 335h1v1h-1zM511 341h1v1h-1zM511 347h1v1h-1zM511 353h1v1h-1zM511 359h1v1h-1zM511 365h1v1h-1zM511 371h1v1h-1zM511 377h1v1h-1zM511 383h1v1h-1zM511 389h1v1h-1zM511 395h1v1h-1zM511 401h1v1h-1zM511 407h1v1h-1zM511 413h1v1h-1zM511 419h1v1h-1zM511 425h1v1h-1zM511 431h1v1h-1zM511 437h1v1h-1zM511 443h1v1h-1zM511 449h1v1h-1zM511 455h1v1h-1zM511 461h1v1h-1zM511 467h1v1h-1zM511 473h1v1h-1zM512 47h1v1h-1zM512 53h1v1h-1zM512 59h1v1h-1zM512 65h1v1h-1zM512 71h1v1h-1zM512 77h1v1h-1zM512 83h1v1h-1zM512 89h1v1h-1zM512 95h1v1h-1zM512 101h1v1h-1zM512 107h1v1h-1zM512 113h1v1h-1zM512 119h1v1h-1zM512 125h1v1h-1zM512 131h1v1h-1zM512 137h1v1h-1zM512 143h1v1h-1zM512 149h1v1h-1zM512 155h1v1h-1zM512 161h1v1h-1zM512 167h1v1h-1zM512 173h1v1h-1zM512 179h1v1h-1zM512 185h1v1h-1zM512 191h1v1h-1zM512 197h1v1h-1zM512 203h1v1h-1zM512 209h1v1h-1zM512 215h1v1h-1zM512 221h1v1h-1zM512 227h1v1h-1zM512 233h1v1h-1zM512 239h1v1h-1zM512 245h1v1h-1zM512 251h1v1h-1zM512 257h1v1h-1zM512 263h1v1h-1zM512 269h1v1h-1zM512 275h1v1h-1zM512 281h1v1h-1zM512 287h1v1h-1zM512 293h1v1h-1zM512 299h1v1h-1zM512 305h1v1h-1zM512 311h1v1h-1zM512 317h1v1h-1zM512 323h1v1h-1zM512 329h1v1h-1zM512 335h1v1h-1zM512 341h1v1h-1zM512 347h1v1h-1zM512 353h1v1h-1zM512 359h1v1h-1zM512 365h1v1h-1zM512 371h1v1h-1zM512 377h1v1h-1zM512 383h1v1h-1zM512 389h1v1h-1zM512 395h1v1h-1zM512 401h1v1h-1zM512 407h1v1h-1zM512 413h1v1h-1zM512 419h1v1h-1zM512 425h1v1h-1zM512 431h1v1h-1zM512 437h1v1h-1zM512 443h1v1h-1zM512 449h1v1h-1zM512 455h1v1h-1zM512 461h1v1h-1zM512 467h1v1h-1zM512 473h1v1h-1zM514 47h1v1h-1zM514 53h1v1h-1zM514 59h1v1h-1zM514 65h1v1h-1zM514 71h1v1h-1zM514 77h1v1h-1zM514 83h1v1h-1zM514 89h1v1h-1zM514 95h1v1h-1zM514 101h1v1h-1zM514 107h1v1h-1zM514 113h1v1h-1zM514 119h1v1h-1zM514 125h1v1h-1zM514 131h1v1h-1zM514 137h1v1h-1zM514 143h1v1h-1zM514 149h1v1h-1zM514 155h1v1h-1zM514 161h1v1h-1zM514 167h1v1h-1zM514 173h1v1h-1zM514 179h1v1h-1zM514 185h1v1h-1zM514 191h1v1h-1zM514 197h1v1h-1zM514 203h1v1h-1zM514 209h1v1h-1zM514 215h1v1h-1zM514 221h1v1h-1zM514 227h1v1h-1zM514 233h1v1h-1zM514 239h1v1h-1zM514 245h1v1h-1zM514 251h1v1h-1zM514 257h1v1h-1zM514 263h1v1h-1zM514 269h1v1h-1zM514 275h1v1h-1zM514 281h1v1h-1zM514 287h1v1h-1zM514 293h1v1h-1zM514 299h1v1h-1zM514 305h1v1h-1zM514 311h1v1h-1zM514 317h1v1h-1zM514 323h1v1h-1zM514 329h1v1h-1zM514 335h1v1h-1zM514 341h1v1h-1zM514 347h1v1h-1zM514 353h1v1h-1zM514 359h1v1h-1zM514 365h1v1h-1zM514 371h1v1h-1zM514 377h1v1h-1zM514 383h1v1h-1zM514 389h1v1h-1zM514 395h1v1h-1zM514 401h1v1h-1zM514 407h1v1h-1zM514 413h1v1h-1zM514 419h1v1h-1zM514 425h1v1h-1zM514 431h1v1h-1zM514 437h1v1h-1zM514 443h1v1h-1zM514 449h1v1h-1zM514 455h1v1h-1zM514 461h1v1h-1zM514 467h1v1h-1zM514 473h1v1h-1zM735 47h1v1h-1zM735 53h1v1h-1zM735 59h1v1h-1zM735 65h1v1h-1zM735 71h1v1h-1zM735 77h1v1h-1zM735 83h1v1h-1zM735 89h1v1h-1zM735 95h1v1h-1zM735 101h1v1h-1zM735 107h1v1h-1zM735 113h1v1h-1zM735 119h1v1h-1zM735 125h1v1h-1zM735 131h1v1h-1zM735 137h1v1h-1zM735 143h1v1h-1zM735 149h1v1h-1zM735 155h1v1h-1zM735 161h1v1h-1zM735 167h1v1h-1zM735 173h1v1h-1zM735 179h1v1h-1zM735 185h1v1h-1zM735 191h1v1h-1zM735 197h1v1h-1zM735 203h1v1h-1zM735 209h1v1h-1zM735 215h1v1h-1zM735 221h1v1h-1zM735 227h1v1h-1zM735 233h1v1h-1zM735 239h1v1h-1zM735 245h1v1h-1zM735 251h1v1h-1zM735 257h1v1h-1zM735 263h1v1h-1zM735 269h1v1h-1zM735 275h1v1h-1zM735 281h1v1h-1zM735 287h1v1h-1zM735 293h1v1h-1zM735 299h1v1h-1zM735 305h1v1h-1zM735 311h1v1h-1zM735 317h1v1h-1zM735 323h1v1h-1zM735 329h1v1h-1zM735 335h1v1h-1zM735 341h1v1h-1zM735 347h1v1h-1zM735 353h1v1h-1zM735 359h1v1h-1zM735 365h1v1h-1zM735 371h1v1h-1zM735 377h1v1h-1zM735 383h1v1h-1zM735 389h1v1h-1zM735 395h1v1h-1zM735 401h1v1h-1zM735 407h1v1h-1zM735 413h1v1h-1zM735 419h1v1h-1zM735 425h1v1h-1zM735 431h1v1h-1zM735 437h1v1h-1zM735 443h1v1h-1zM735 449h1v1h-1zM735 455h1v1h-1zM735 461h1v1h-1zM735 467h1v1h-1zM735 473h1v1h-1zM741 47h1v1h-1zM741 53h1v1h-1zM741 59h1v1h-1zM741 65h1v1h-1zM741 71h1v1h-1zM741 77h1v1h-1zM741 83h1v1h-1zM741 89h1v1h-1zM741 95h1v1h-1zM741 101h1v1h-1zM741 107h1v1h-1zM741 113h1v1h-1zM741 119h1v1h-1zM741 125h1v1h-1zM741 131h1v1h-1zM741 137h1v1h-1zM741 143h1v1h-1zM741 149h1v1h-1zM741 155h1v1h-1zM741 161h1v1h-1zM741 167h1v1h-1zM741 173h1v1h-1zM741 179h1v1h-1zM741 185h1v1h-1zM741 191h1v1h-1zM741 197h1v1h-1zM741 203h1v1h-1zM741 209h1v1h-1zM741 215h1v1h-1zM741 221h1v1h-1zM741 227h1v1h-1zM741 233h1v1h-1zM741 239h1v1h-1zM741 245h1v1h-1zM741 251h1v1h-1zM741 257h1v1h-1zM741 263h1v1h-1zM741 269h1v1h-1zM741 275h1v1h-1zM741 281h1v1h-1zM741 287h1v1h-1zM741 293h1v1h-1zM741 299h1v1h-1zM741 305h1v1h-1zM741 311h1v1h-1zM741 317h1v1h-1zM741 323h1v1h-1zM741 329h1v1h-1zM741 335h1v1h-1zM741 341h1v1h-1zM741 347h1v1h-1zM741 353h1v1h-1zM741 359h1v1h-1zM741 365h1v1h-1zM741 371h1v1h-1zM741 377h1v1h-1zM741 383h1v1h-1zM741 389h1v1h-1zM741 395h1v1h-1zM741 401h1v1h-1zM741 407h1v1h-1zM741 413h1v1h-1zM741 419h1v1h-1zM741 425h1v1h-1zM741 431h1v1h-1zM741 437h1v1h-1zM741 443h1v1h-1zM741 449h1v1h-1zM741 455h1v1h-1zM741 461h1v1h-1zM741 467h1v1h-1zM741 473h1v1h-1zM756 47h1v1h-1zM756 53h1v1h-1zM756 59h1v1h-1zM756 65h1v1h-1zM756 71h1v1h-1zM756 77h1v1h-1zM756 83h1v1h-1zM756 89h1v1h-1zM756 95h1v1h-1zM756 101h1v1h-1zM756 107h1v1h-1zM756 113h1v1h-1zM756 119h1v1h-1zM756 125h1v1h-1zM756 131h1v1h-1zM756 137h1v1h-1zM756 143h1v1h-1zM756 149h1v1h-1zM756 155h1v1h-1zM756 161h1v1h-1zM756 167h1v1h-1zM756 173h1v1h-1zM756 179h1v1h-1zM756 185h1v1h-1zM756 191h1v1h-1zM756 197h1v1h-1zM756 203h1v1h-1zM756 209h1v1h-1zM756 215h1v1h-1zM756 221h1v1h-1zM756 227h1v1h-1zM756 233h1v1h-1zM756 239h1v1h-1zM756 245h1v1h-1zM756 251h1v1h-1zM756 257h1v1h-1zM756 263h1v1h-1zM756 269h1v1h-1zM756 275h1v1h-1zM756 281h1v1h-1zM756 287h1v1h-1zM756 293h1v1h-1zM756 299h1v1h-1zM756 305h1v1h-1zM756 311h1v1h-1zM756 317h1v1h-1zM756 323h1v1h-1zM756 329h1v1h-1zM756 335h1v1h-1zM756 341h1v1h-1zM756 347h1v1h-1zM756 353h1v1h-1zM756 359h1v1h-1zM756 365h1v1h-1zM756 371h1v1h-1zM756 377h1v1h-1zM756 383h1v1h-1zM756 389h1v1h-1zM756 395h1v1h-1zM756 401h1v1h-1zM756 407h1v1h-1zM756 413h1v1h-1zM756 419h1v1h-1zM756 425h1v1h-1zM756 431h1v1h-1zM756 437h1v1h-1zM756 443h1v1h-1zM756 449h1v1h-1zM756 455h1v1h-1zM756 461h1v1h-1zM756 467h1v1h-1zM756 473h1v1h-1z"/>
<defs><filter id="th" x="0" y="0" width="900" height="650" filterUnits="userSpaceOnUse"><feComponentTransfer><feFuncA type="discrete" tableValues="0 1"/></feComponentTransfer></filter><filter id="th2" color-interpolation-filters="sRGB" x="0" y="0" width="900" height="650" filterUnits="userSpaceOnUse"><feColorMatrix type="matrix" values="0 0 0 0 0  0 0 0 0 0  0 0 0 0 0  -0.3333 -0.3333 -0.3333 1 0"/><feComponentTransfer><feFuncA type="discrete" tableValues="0 1 1"/></feComponentTransfer></filter><filter id="thw" color-interpolation-filters="sRGB" x="0" y="0" width="900" height="650" filterUnits="userSpaceOnUse"><feColorMatrix type="matrix" values="0 0 0 0 0  0 0 0 0 0  0 0 0 0 0  -0.3333 -0.3333 -0.3333 1 0"/><feComponentTransfer><feFuncA type="discrete" tableValues="0 1 1 1"/></feComponentTransfer></filter><filter id="tho" color-interpolation-filters="sRGB" x="-20%" y="-50%" width="140%" height="200%"><feColorMatrix type="matrix" values="0 0 0 0 0  0 0 0 0 0  0 0 0 0 0  -0.3333 -0.3333 -0.3333 1 0"/><feComponentTransfer><feFuncA type="discrete" tableValues="0 0 1 1 1 1 1 1 1 1"/></feComponentTransfer></filter><filter id="thl" color-interpolation-filters="sRGB" x="0" y="0" width="900" height="650" filterUnits="userSpaceOnUse"><feColorMatrix type="matrix" values="0 0 0 0 0  0 0 0 0 0  0 0 0 0 0  -0.3333 -0.3333 -0.3333 1 0"/><feComponentTransfer><feFuncA type="discrete" tableValues="0 0 1 1 1 1 1 1 1 1"/></feComponentTransfer></filter></defs>
<g fill="#000" filter="url(#thw)">
<text x="187.31" y="33.8" font-family="'Liberation Serif', serif" font-size="27.42" textLength="569.04" lengthAdjust="spacing" stroke="#fff" stroke-width="0.5">spec−55953−GAC_089N28_M2_sp11−096.fits</text>
<text x="393.0" y="530" font-family="'Liberation Serif', serif" font-size="21.54" textLength="158.67" lengthAdjust="spacingAndGlyphs" stroke="#fff" stroke-width="0.2">Wavelength (Å)</text>
<text filter="url(#tho)" transform="translate(70.6,338.11) rotate(-90)" x="0" y="0" font-family="'Liberation Serif', serif" font-size="22.31" textLength="155.64" lengthAdjust="spacingAndGlyphs" stroke="#fff" stroke-width="0.4">Flux (relative)</text>
<text x="134.47" y="560.1" font-family="'Liberation Serif', serif" font-size="25.76" textLength="64.6" lengthAdjust="spacingAndGlyphs" stroke="#fff" stroke-width="0.5">STAR</text>
<text x="236.67" y="560.1" font-family="'Liberation Serif', serif" font-size="25.76" textLength="31.14" lengthAdjust="spacingAndGlyphs" stroke="#fff" stroke-width="0.5">F2</text>
<text x="607.67" y="560" font-family="'Liberation Serif', serif" font-size="25.23" textLength="96.88" lengthAdjust="spacingAndGlyphs" stroke="#fff" stroke-width="0.5">LAMOST</text>
<text x="717.54" y="560" font-family="'Liberation Serif', serif" font-size="25.23" textLength="50.52" lengthAdjust="spacingAndGlyphs" stroke="#fff" stroke-width="0.5">DR2</text>
<text x="134.79" y="589.8" font-family="'Liberation Serif', serif" font-size="19.7" textLength="21.2" lengthAdjust="spacingAndGlyphs" stroke="#fff" stroke-width="0.2">cz</text>
<text x="165.67" y="589.8" font-family="'Liberation Serif', serif" font-size="19.7" textLength="13.7" lengthAdjust="spacingAndGlyphs" stroke="#fff" stroke-width="0.2">=</text>
<text x="188.9" y="589.8" font-family="'Liberation Serif', serif" font-size="19.7" textLength="53.79" lengthAdjust="spacingAndGlyphs" stroke="#fff" stroke-width="0.2">−11.5</text>
<text x="252.0" y="589.8" font-family="'Liberation Serif', serif" font-size="19.7" textLength="14.06" lengthAdjust="spacingAndGlyphs" stroke="#fff" stroke-width="0.2">±</text>
<text x="274.5" y="589.8" font-family="'Liberation Serif', serif" font-size="19.7" textLength="29.42" lengthAdjust="spacingAndGlyphs" stroke="#fff" stroke-width="0.2">6.1</text>
<text x="311.18" y="589.8" font-family="'Liberation Serif', serif" font-size="19.7" textLength="54.34" lengthAdjust="spacingAndGlyphs" stroke="#fff" stroke-width="0.2">km/s</text>
<text x="135.52" y="620.6" font-family="'Liberation Serif', serif" font-size="20.92" textLength="22.51" lengthAdjust="spacingAndGlyphs" stroke="#fff" stroke-width="0.2">RA</text>
<text x="168.53" y="620.6" font-family="'Liberation Serif', serif" font-size="20.61" textLength="13.6" lengthAdjust="spacingAndGlyphs" stroke="#fff" stroke-width="0.2">=</text>
<text x="200.68" y="620.6" font-family="'Liberation Serif', serif" font-size="20.61" textLength="92.12" lengthAdjust="spacingAndGlyphs" stroke="#fff" stroke-width="0.2">88.76599,</text>
<text x="301.15" y="620.6" font-family="'Liberation Serif', serif" font-size="20.92" textLength="35.54" lengthAdjust="spacingAndGlyphs" stroke="#fff" stroke-width="0.2">DEC</text>
<text x="346.43" y="620.6" font-family="'Liberation Serif', serif" font-size="20.61" textLength="13.6" lengthAdjust="spacingAndGlyphs" stroke="#fff" stroke-width="0.2">=</text>
<text x="379.61" y="620.6" font-family="'Liberation Serif', serif" font-size="20.61" textLength="84.01" lengthAdjust="spacingAndGlyphs" stroke="#fff" stroke-width="0.2">30.63578</text>
<text x="607.41" y="589.3" font-family="'Liberation Serif', serif" font-size="19.24" textLength="99.48" lengthAdjust="spacingAndGlyphs" stroke="#fff" stroke-width="0.2">Obs−Date:</text>
<text x="713.71" y="589.3" font-family="'Liberation Serif', serif" font-size="19.24" textLength="91.61" lengthAdjust="spacingAndGlyphs" stroke="#fff" stroke-width="0.2">20120126</text>
<text x="148.9" y="503.7" font-family="'Liberation Sans', sans-serif" font-size="19.43" textLength="47.44" lengthAdjust="spacingAndGlyphs" stroke="#fff" stroke-width="0.45">4000</text>
<text x="272.78" y="503.7" font-family="'Liberation Sans', sans-serif" font-size="19.43" textLength="48.57" lengthAdjust="spacingAndGlyphs" stroke="#fff" stroke-width="0.45">5000</text>
<text x="397.78" y="503.7" font-family="'Liberation Sans', sans-serif" font-size="19.43" textLength="48.57" lengthAdjust="spacingAndGlyphs" stroke="#fff" stroke-width="0.45">6000</text>
<text x="522.78" y="503.7" font-family="'Liberation Sans', sans-serif" font-size="19.43" textLength="48.57" lengthAdjust="spacingAndGlyphs" stroke="#fff" stroke-width="0.45">7000</text>
<text x="647.78" y="503.7" font-family="'Liberation Sans', sans-serif" font-size="19.43" textLength="48.57" lengthAdjust="spacingAndGlyphs" stroke="#fff" stroke-width="0.45">8000</text>
<text x="772.78" y="503.7" font-family="'Liberation Sans', sans-serif" font-size="19.43" textLength="48.57" lengthAdjust="spacingAndGlyphs" stroke="#fff" stroke-width="0.45">9000</text>
<text x="87.3" y="453.6" font-family="'Liberation Sans', sans-serif" font-size="19.71" textLength="40.09" lengthAdjust="spacingAndGlyphs" stroke="#fff" stroke-width="0.45">−40</text>
<text x="87.3" y="392.6" font-family="'Liberation Sans', sans-serif" font-size="19.71" textLength="40.09" lengthAdjust="spacingAndGlyphs" stroke="#fff" stroke-width="0.45">−20</text>
<text x="115.79" y="330.6" font-family="'Liberation Sans', sans-serif" font-size="19.71" textLength="12.17" lengthAdjust="spacingAndGlyphs" stroke="#fff" stroke-width="0.45">0</text>
<text x="103.49" y="269.6" font-family="'Liberation Sans', sans-serif" font-size="19.71" textLength="24.43" lengthAdjust="spacingAndGlyphs" stroke="#fff" stroke-width="0.45">20</text>
<text x="104.6" y="207.6" font-family="'Liberation Sans', sans-serif" font-size="19.71" textLength="23.26" lengthAdjust="spacingAndGlyphs" stroke="#fff" stroke-width="0.45">40</text>
<text x="103.49" y="146.6" font-family="'Liberation Sans', sans-serif" font-size="19.71" textLength="24.43" lengthAdjust="spacingAndGlyphs" stroke="#fff" stroke-width="0.45">60</text>
<text x="103.49" y="84.6" font-family="'Liberation Sans', sans-serif" font-size="19.71" textLength="24.43" lengthAdjust="spacingAndGlyphs" stroke="#fff" stroke-width="0.45">80</text>
</g>
<g fill="#000" filter="url(#thl)">
<text x="138.3" y="63" font-family="'Liberation Serif', serif" font-size="15.85" textLength="17.33" lengthAdjust="spacingAndGlyphs" stroke="#fff" stroke-width="0.2">H<tspan font-style="italic">θ</tspan></text>
<text x="158.71" y="63" font-family="'Liberation Serif', serif" font-size="15.85" textLength="10.19" lengthAdjust="spacingAndGlyphs" stroke="#fff" stroke-width="0.2">K</text>
<text x="174.94" y="63" font-family="'Liberation Serif', serif" font-size="15.85" textLength="19.87" lengthAdjust="spacingAndGlyphs" stroke="#fff" stroke-width="0.2">H<tspan font-style="italic">δ</tspan></text>
<text x="206.08" y="63" font-family="'Liberation Serif', serif" font-size="15.85" textLength="25.1" lengthAdjust="spacingAndGlyphs" stroke="#fff" stroke-width="0.2">OIII</text>
<text x="286.09" y="63" font-family="'Liberation Serif', serif" font-size="15.85" textLength="24.88" lengthAdjust="spacingAndGlyphs" stroke="#fff" stroke-width="0.2">OIII</text>
<text x="452.92" y="63" font-family="'Liberation Serif', serif" font-size="15.85" textLength="14.71" lengthAdjust="spacingAndGlyphs" stroke="#fff" stroke-width="0.2">OI</text>
<text x="482.24" y="63" font-family="'Liberation Serif', serif" font-size="15.85" textLength="21.03" lengthAdjust="spacingAndGlyphs" stroke="#fff" stroke-width="0.2">H<tspan font-style="italic">α</tspan></text>
<text x="503.02" y="63" font-family="'Liberation Serif', serif" font-size="15.85" textLength="18.92" lengthAdjust="spacingAndGlyphs" stroke="#fff" stroke-width="0.2">SII</text>
<text x="726.79" y="63" font-family="'Liberation Serif', serif" font-size="15.85" textLength="28.48" lengthAdjust="spacingAndGlyphs" stroke="#fff" stroke-width="0.2">CaII</text>
<text x="129.29" y="80" font-family="'Liberation Serif', serif" font-size="15.85" textLength="20.02" lengthAdjust="spacingAndGlyphs" stroke="#fff" stroke-width="0.2">OII</text>
<text x="144.91" y="80" font-family="'Liberation Serif', serif" font-size="15.85" textLength="25.93" lengthAdjust="spacingAndGlyphs" stroke="#fff" stroke-width="0.2">HeI</text>
<text x="172.33" y="80" font-family="'Liberation Serif', serif" font-size="15.85" textLength="18.81" lengthAdjust="spacingAndGlyphs" stroke="#fff" stroke-width="0.2">SII</text>
<text x="204.88" y="80" font-family="'Liberation Serif', serif" font-size="15.85" textLength="19.79" lengthAdjust="spacingAndGlyphs" stroke="#fff" stroke-width="0.2">H<tspan font-style="italic">γ</tspan></text>
<text x="280.5" y="80" font-family="'Liberation Serif', serif" font-size="15.85" textLength="24.44" lengthAdjust="spacingAndGlyphs" stroke="#fff" stroke-width="0.2">OIII</text>
<text x="398.89" y="80" font-family="'Liberation Serif', serif" font-size="15.85" textLength="20.44" lengthAdjust="spacingAndGlyphs" stroke="#fff" stroke-width="0.2">Na</text>
<text x="480.83" y="80" font-family="'Liberation Serif', serif" font-size="15.85" textLength="21.34" lengthAdjust="spacingAndGlyphs" stroke="#fff" stroke-width="0.2">NII</text>
<text x="505.0" y="80" font-family="'Liberation Serif', serif" font-size="15.85" textLength="12.68" lengthAdjust="spacingAndGlyphs" stroke="#fff" stroke-width="0.2">Li</text>
<text x="720.97" y="80" font-family="'Liberation Serif', serif" font-size="15.85" textLength="29.13" lengthAdjust="spacingAndGlyphs" stroke="#fff" stroke-width="0.2">CaII</text>
<text x="129.31" y="97" font-family="'Liberation Serif', serif" font-size="15.85" textLength="19.58" lengthAdjust="spacingAndGlyphs" stroke="#fff" stroke-width="0.2">OII</text>
<text x="144.11" y="97" font-family="'Liberation Serif', serif" font-size="15.85" textLength="17.18" lengthAdjust="spacingAndGlyphs" stroke="#fff" stroke-width="0.2">H<tspan font-style="italic">η</tspan></text>
<text x="163.66" y="97" font-family="'Liberation Serif', serif" font-size="15.85" textLength="8.48" lengthAdjust="spacingAndGlyphs" stroke="#fff" stroke-width="0.2">H</text>
<text x="205.0" y="97" font-family="'Liberation Serif', serif" font-size="15.85" textLength="11.45" lengthAdjust="spacingAndGlyphs" stroke="#fff" stroke-width="0.2">G</text>
<text x="270.0" y="97" font-family="'Liberation Serif', serif" font-size="15.85" textLength="19.36" lengthAdjust="spacingAndGlyphs" stroke="#fff" stroke-width="0.2">H<tspan font-style="italic">β</tspan></text>
<text x="309.44" y="97" font-family="'Liberation Serif', serif" font-size="15.85" textLength="18.87" lengthAdjust="spacingAndGlyphs" stroke="#fff" stroke-width="0.2">Mg</text>
<text x="460.61" y="97" font-family="'Liberation Serif', serif" font-size="15.85" textLength="14.82" lengthAdjust="spacingAndGlyphs" stroke="#fff" stroke-width="0.2">OI</text>
<text x="484.66" y="97" font-family="'Liberation Serif', serif" font-size="15.85" textLength="20.57" lengthAdjust="spacingAndGlyphs" stroke="#fff" stroke-width="0.2">NII</text>
<text x="503.2" y="97" font-family="'Liberation Serif', serif" font-size="15.85" textLength="21.31" lengthAdjust="spacingAndGlyphs" stroke="#fff" stroke-width="0.2">SII</text>
<text x="741.8" y="97" font-family="'Liberation Serif', serif" font-size="15.85" textLength="28.26" lengthAdjust="spacingAndGlyphs" stroke="#fff" stroke-width="0.2">CaII</text>
</g>
</svg></body></html>
